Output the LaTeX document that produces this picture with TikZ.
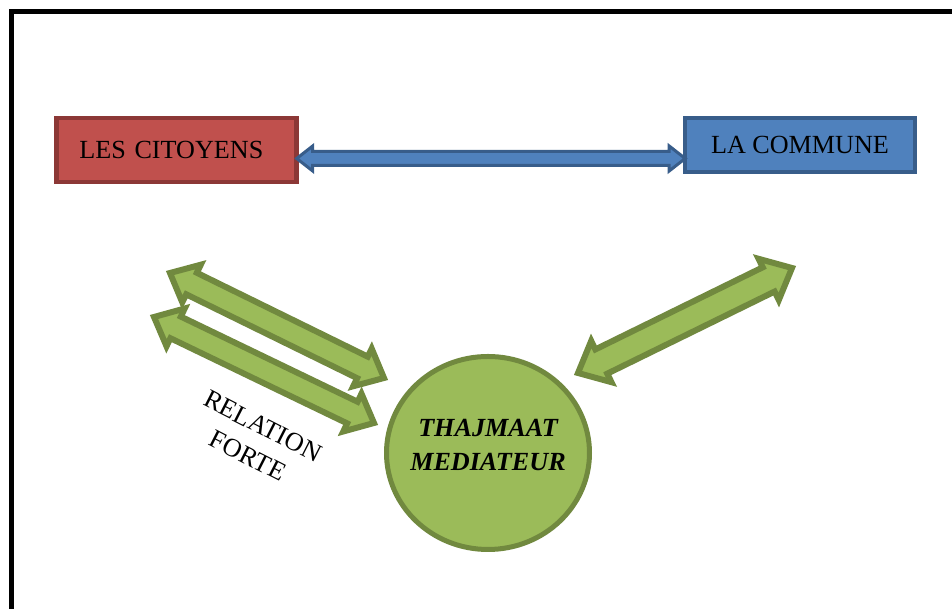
\documentclass[tikz,border=0pt]{standalone}
\usepackage{fontspec}
\setmainfont{Liberation Serif}
\usetikzlibrary{calc,shapes.geometric}
\definecolor{citred}{HTML}{C0504D}
\definecolor{citredline}{HTML}{8C3836}
\definecolor{comblue}{HTML}{4F81BD}
\definecolor{comblueline}{HTML}{385D8A}
\definecolor{medgreen}{HTML}{9BBB59}
\definecolor{medgreenline}{HTML}{71893F}

% block arrow with a head at both ends
% #1 style, #2 #3 ends, #4 head length, #5 half head width, #6 half shaft width
\newcommand{\dblarrow}[6]{%
  \draw[#1] (#2)
    -- ($(#2)!#4!(#3)!#5!90:(#3)$) -- ($(#2)!#4!(#3)!#6!90:(#3)$)
    -- ($(#3)!#4!(#2)!#6!-90:(#2)$) -- ($(#3)!#4!(#2)!#5!-90:(#2)$)
    -- (#3)
    -- ($(#3)!#4!(#2)!#5!90:(#2)$) -- ($(#3)!#4!(#2)!#6!90:(#2)$)
    -- ($(#2)!#4!(#3)!#6!-90:(#3)$) -- ($(#2)!#4!(#3)!#5!-90:(#3)$)
    -- cycle;}

\begin{document}
\begin{tikzpicture}[
  bigfont/.style={font=\fontsize{18.6pt}{23.5pt}\selectfont},
  box/.style={rectangle, line width=3.2pt, outer sep=0pt, bigfont},
  citbox/.style={box, fill=citred, draw=citredline, minimum width=6.01cm, minimum height=1.59cm,
    inner xsep=0.575cm, text width=4.86cm, align=left},
  combox/.style={box, fill=comblue, draw=comblueline, minimum width=5.74cm, minimum height=1.34cm},
  bluearrow/.style={fill=comblue, draw=comblueline, line width=0.075cm},
  greenarrow/.style={fill=medgreen, draw=medgreenline, line width=0.15cm},
  mediator/.style={ellipse, fill=medgreen, draw=medgreenline, line width=0.125cm, minimum width=5.075cm, minimum height=4.825cm},
  medtext/.style={bigfont, font=\fontsize{18.6pt}{23.5pt}\selectfont\bfseries\itshape, align=center},
  relation/.style={bigfont, align=center, rotate=-27}
]
  \clip (0,0) rectangle (23.8,15.225);
  % frame
  \draw[line width=0.125cm] (0.2875,-1) |- (25,14.9375);
  % top boxes
  \node[citbox] (cit) at (4.4125,11.475) {LES CITOYENS};
  \node[combox] (com) at (20,11.6) {LA COMMUNE};
  \coordinate (bl) at ([yshift=-0.2125cm]cit.east);
  \coordinate (br) at ([yshift=-0.3375cm]com.west);
  \dblarrow{bluearrow}{bl}{br}{0.4cm}{0.3125cm}{0.175cm}
  % mediator
  \node[mediator] (med) at (12.2,3.9) {};
  \node[medtext] (medlabel) at ([yshift=0.2cm]med.center) {THAJMAAT\\MEDIATEUR};
  % green arrows
  \coordinate (g1a) at (4.25,8.4);
  \coordinate (g1b) at (9.6,5.775);
  \coordinate (g2a) at (3.85,7.3);
  \coordinate (g2b) at (9.35,4.65);
  \coordinate (g3a) at (14.45,5.9);
  \coordinate (g3b) at (19.8,8.525);
  \dblarrow{greenarrow}{g1a}{g1b}{0.6cm}{0.525cm}{0.3cm}
  \dblarrow{greenarrow}{g2a}{g2b}{0.6cm}{0.525cm}{0.3cm}
  \dblarrow{greenarrow}{g3a}{g3b}{0.65cm}{0.575cm}{0.3375cm}
  \node[relation] (rel) at (6.3875,4.2) {RELATION\\FORTE};
\end{tikzpicture}
\end{document}
